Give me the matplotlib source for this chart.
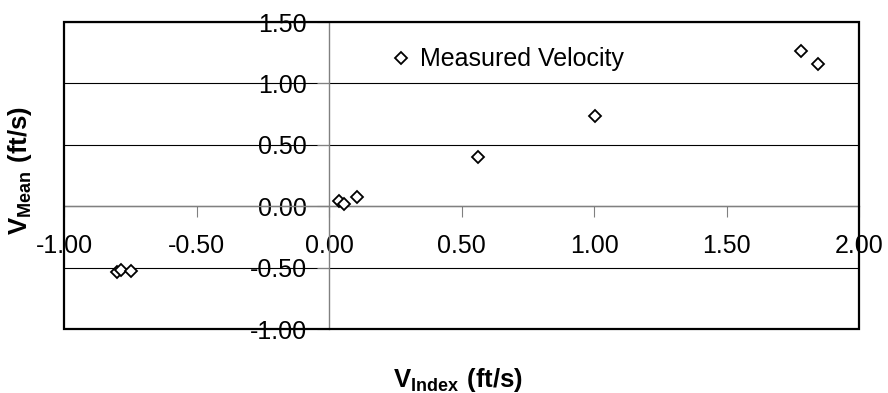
import matplotlib.pyplot as plt
from matplotlib.patches import Rectangle

plt.rcParams['font.family'] = ['Liberation Sans', 'DejaVu Sans']
plt.rcParams['mathtext.fontset'] = 'custom'
plt.rcParams['mathtext.rm'] = 'Liberation Sans'
plt.rcParams['mathtext.bf'] = 'Liberation Sans:bold'

v_index = [-0.80, -0.785, -0.747, 0.039, 0.057, 0.105, 0.563, 1.004, 1.78, 1.845]
v_mean = [-0.535, -0.522, -0.525, 0.04, 0.014, 0.073, 0.40, 0.735, 1.262, 1.159]
xticks = [-1.0, -0.5, 0.0, 0.5, 1.0, 1.5, 2.0]
yticks = [-1.0, -0.5, 0.0, 0.5, 1.0, 1.5]

fig = plt.figure(figsize=(8.88, 3.93), dpi=100)
ax = fig.add_axes([0.0721, 0.1628, 0.8953, 0.7812])

ax.plot(v_index, v_mean, linestyle='none', marker='D', ms=6.5, mfc='white',
        mec='black', mew=1.3, label='Measured Velocity', zorder=5)

ax.set_xlim(-1, 2)
ax.set_ylim(-1, 1.5)
ax.set_xticks(xticks)
ax.set_yticks(yticks)
ax.set_xticklabels(['%.2f' % t for t in xticks])
ax.set_yticklabels(['%.2f' % t for t in yticks])

# axes cross at the origin, like excel
for s in ['top', 'right']:
    ax.spines[s].set_visible(False)
ax.spines['left'].set_position(('data', 0))
ax.spines['bottom'].set_position(('data', 0))
for s in ['left', 'bottom']:
    ax.spines[s].set_color('gray')
    ax.spines[s].set_linewidth(1.0)

ax.set_axisbelow(True)
ax.yaxis.grid(True, color='black', lw=0.8)
ax.tick_params(axis='x', direction='out', length=8, color='gray', pad=12,
               labelsize=18)
ax.tick_params(axis='y', direction='out', length=9, color='gray', pad=7,
               labelsize=18)

# outer frame
ax.add_patch(Rectangle((0, 0), 1, 1, transform=ax.transAxes, fill=False,
                       lw=1.6, ec='black', clip_on=False, zorder=6))

leg = ax.legend(loc='upper left', bbox_to_anchor=(0.40, 0.95), frameon=False,
                fontsize=18, handlelength=0.7, handletextpad=0.4,
                borderaxespad=0)

fig.text(0.516, 0.033, r'$\mathbf{V_{Index}\ (ft/s)}$', ha='center',
         va='center', fontsize=18.5)
fig.text(0.022, 0.565, r'$\mathbf{V_{Mean}\ (ft/s)}$', ha='center',
         va='center', fontsize=18.5, rotation=90)

fig.savefig('out.png', dpi=100)
